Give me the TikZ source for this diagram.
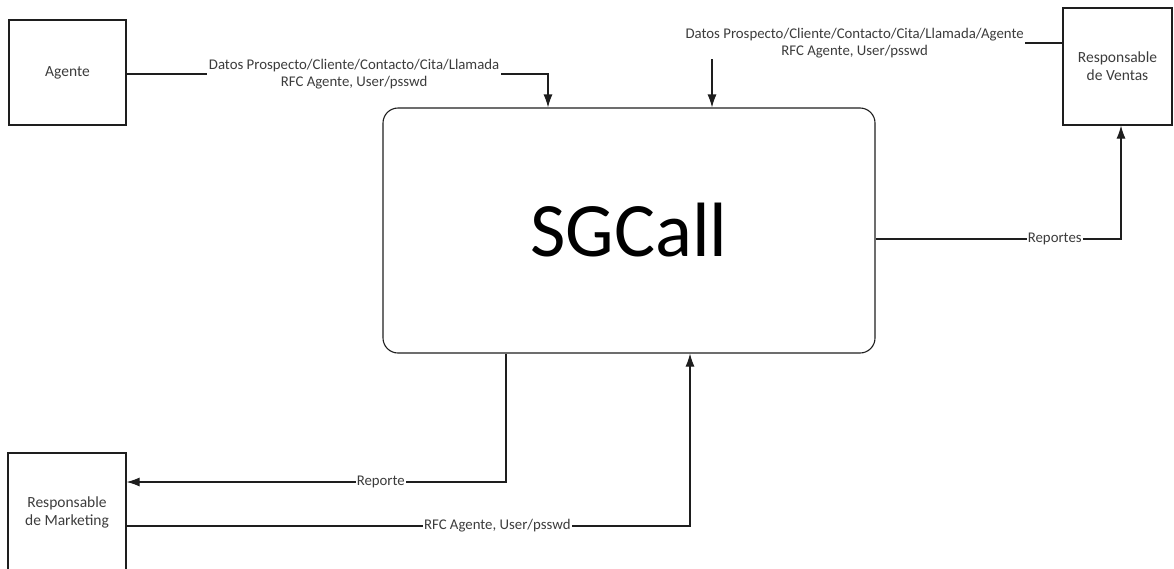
\documentclass[tikz,border=0pt]{standalone}
\usepackage{fontspec}
\setmainfont{Carlito}
\usetikzlibrary{arrows.meta}
\definecolor{txt}{RGB}{60,60,60}
\definecolor{ln}{RGB}{30,30,30}
\begin{document}
\begin{tikzpicture}[x=1pt,y=-1pt,
  entity/.style={draw=ln, line width=1.1pt, align=center, inner sep=0pt,
    font=\fontsize{15.5}{18}\selectfont, text=txt},
  proc/.style={draw=ln, line width=1.1pt, rounded corners=15pt, inner sep=0pt,
    font=\fontsize{77}{90}\selectfont, text=black},
  flow/.style={draw=ln, line width=1.1pt, -{Latex[length=13pt,width=9pt]}},
  lbl/.style={fill=white, align=center, inner sep=1.5pt,
    font=\fontsize{14.8}{17}\selectfont, text=txt}]
\useasboundingbox (0,0) rectangle (1174,568);

\node[entity, minimum width=117pt, minimum height=105pt] (agente) at (67.5,72.5) {Agente};
\node[entity, minimum width=109pt, minimum height=117pt] (ventas) at (1117.5,66.5) {Responsable\\de Ventas};
\node[entity, minimum width=118pt, minimum height=119pt] (mkt) at (67,512.5) {Responsable\\de Marketing};
\node[proc, minimum width=492pt, minimum height=245pt] (sg) at (629,230.5) {SGCall};

\coordinate (a1) at (548,74);
\coordinate (v1) at (712,43);
\coordinate (r1) at (1121,239);
\coordinate (m1) at (506,482);
\coordinate (m2) at (690,526);

\draw[flow] (agente.east |- a1) -- node[lbl, pos=0.54] {Datos Prospecto/Cliente/Contacto/Cita/Llamada\\RFC Agente, User/psswd} (a1) -- (sg.north -| a1);
\draw[flow] (ventas.west |- v1) -- node[lbl, pos=0.593] {Datos Prospecto/Cliente/Contacto/Cita/Llamada/Agente\\RFC Agente, User/psswd} (v1) -- (sg.north -| v1);
\draw[flow] (sg.east |- r1) -- node[lbl, pos=0.73, inner sep=1pt] {Reportes} (r1) -- (ventas.south -| r1);
\draw[flow] (sg.south -| m1) -- (m1) -- node[lbl, pos=0.33, inner sep=1pt] {Reporte} (mkt.east |- m1);
\draw[flow] (mkt.east |- m2) -- node[lbl, pos=0.658, inner sep=1pt] {RFC Agente, User/psswd} (m2) -- (sg.south -| m2);
\end{tikzpicture}
\end{document}
